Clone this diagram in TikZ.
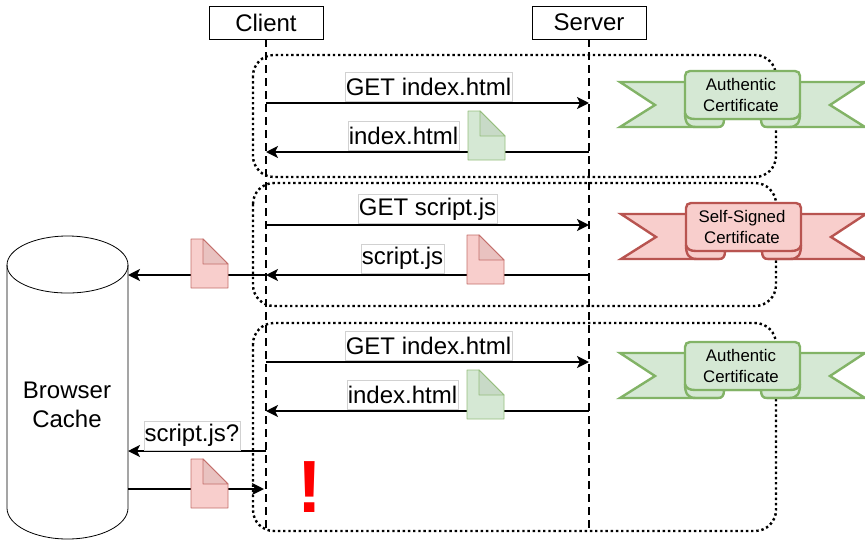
\documentclass[tikz,border=0pt]{standalone}
\usepackage{fontspec}
\setmainfont{Liberation Sans}
\usetikzlibrary{arrows.meta}
\definecolor{gfill}{HTML}{D5E8D4}
\definecolor{gline}{HTML}{82B366}
\definecolor{rfill}{HTML}{F8CECC}
\definecolor{rline}{HTML}{B85450}
\tikzset{
  x=1pt,y=-1pt,
  msg/.style={line width=2.6pt,-{Stealth[length=12pt,width=12pt,inset=3pt]}},
  lifeline/.style={line width=2.6pt,dash pattern=on 8pt off 5pt},
  group/.style={line width=2.4pt,dash pattern=on 2.4pt off 2.8pt,rounded corners=21pt},
  actor/.style={draw=black,line width=0.8pt,fill=white,minimum width=114pt,minimum height=33pt,inner sep=0pt,font=\fontsize{24}{28}\selectfont},
  lbl/.style={draw=black!18,line width=0.7pt,fill=white,inner sep=0pt,minimum height=29pt,font=\fontsize{24}{28}\selectfont},
  ribtext/.style={align=center,inner sep=0pt,font=\fontsize{16.8}{21}\selectfont},
}
\newcommand{\docicon}[5]{% name, x, y, fill, line
  \coordinate (#1) at (#2,#3);
  \filldraw[fill=#4,draw=#5!85!white,line width=0.9pt,line join=round] (#2,#3) -- ++(12,0) -- ++(25,25) -- ++(0,24) -- ++(-37,0) -- cycle;
  \filldraw[fill=#4!94!black,draw=#5!85!white,line width=0.9pt,line join=round] (#2+12,#3) -- ++(25,25) -- ++(-25,0) -- cycle;
}
\newcommand{\ribbonshape}[6]{% name, dy, fill, line, text, dx
  \begin{scope}[shift={(#6,#2)}]
    \filldraw[fill=#3,draw=#4,line width=2.4pt,line join=miter]
      (685,82) -- (620,82) -- (655,105) -- (620,127) -- (718,127)
      .. controls (722,127) and (724,125) .. (724,119) -- (761,119)
      .. controls (761,125) and (763,127) .. (767,127) -- (865,127) -- (830,105) -- (865,82) -- (800,82) -- cycle;
    \filldraw[fill=#3,draw=#4,line width=2.4pt]
      (685,113) -- (685,76) .. controls (685,73) and (687,71) .. (690,71) -- (795,71)
      .. controls (798,71) and (800,73) .. (800,76) -- (800,113)
      .. controls (799,117) and (796,119) .. (790,119) -- (695,119)
      .. controls (689,119) and (686,117) .. (685,113) -- cycle;
    \draw[draw=#4,line width=2.4pt] (685,113) .. controls (685,123) and (688,127) .. (696,127) -- (718,127);
    \draw[draw=#4,line width=2.4pt] (800,113) .. controls (800,123) and (797,127) .. (789,127) -- (767,127);
    \node[ribtext] (#1) at (741,95) {#5};
  \end{scope}
}
\begin{document}
\begin{tikzpicture}
\useasboundingbox (0,0) rectangle (865,539);
% groups
\draw[group] (253,55) rectangle (776,177);
\draw[group] (253,183) rectangle (776,306);
\draw[group] (253,323) rectangle (776,531);
% actors
\node[actor] (client) at (266,22.5) {Client};
\node[actor] (server) at (589,22.5) {Server};
\coordinate (clientEnd) at (266,531);
\coordinate (serverEnd) at (589,531);
\draw[lifeline] (client.south) -- (clientEnd);
\draw[lifeline] (server.south) -- (serverEnd);
% cache
\draw[line width=0.8pt,fill=white] (7,265) .. controls (7,249) and (34,236) .. (67.5,236)
  .. controls (101,236) and (128,249) .. (128,265) -- (128,508)
  .. controls (128,525) and (101,539) .. (67.5,539)
  .. controls (34,539) and (7,525) .. (7,508) -- cycle;
\draw[line width=0.8pt] (7,265) .. controls (7,281) and (34,293) .. (67.5,293)
  .. controls (101,293) and (128,281) .. (128,265);
\node[align=center,inner sep=0pt,font=\fontsize{24}{29}\selectfont] (cache) at (67,405) {Browser\\Cache};
% anchor coordinates
\foreach \n/\y in {1/103,2/152,3/225,4/275,5/362,6/411,7/451,8/489}{
  \coordinate (c\n) at (266,\y);
  \coordinate (s\n) at (589,\y);
}
\coordinate (k4) at (128,275);
\coordinate (k7) at (128,451);
\coordinate (k8) at (128,489);
\coordinate (e8) at (264,489);
% connectors
\draw[msg] (c1) -- (s1);
\draw[msg] (s2) -- (c2);
\draw[msg] (c3) -- (s3);
\draw[msg] (s4) -- (c4);
\draw[msg] (c4) -- (k4);
\draw[msg] (c5) -- (s5);
\draw[msg] (s6) -- (c6);
\draw[msg] (c7) -- (k7);
\draw[msg] (k8) -- (e8);
% labels
\node[lbl,minimum width=167pt] (l1) at (428.5,86.5) {GET index.html};
\node[lbl,minimum width=111pt] (l2) at (403.5,136) {index.html};
\node[lbl,minimum width=139pt] (l3) at (427.5,209) {GET script.js};
\node[lbl,minimum width=83pt] (l4) at (402.5,258.5) {script.js};
\node[lbl,minimum width=167pt] (l5) at (428.5,345.5) {GET index.html};
\node[lbl,minimum width=111pt] (l6) at (402.5,394.5) {index.html};
\node[lbl,minimum width=96pt] (l7) at (192,435.5) {script.js?};
% documents
\docicon{d1}{468}{111}{gfill}{gline}
\docicon{d2}{467}{235}{rfill}{rline}
\docicon{d3}{191}{239}{rfill}{rline}
\docicon{d4}{467}{370}{gfill}{gline}
\docicon{d5}{191}{459}{rfill}{rline}
% ribbons
\ribbonshape{r1}{0}{gfill}{gline}{Authentic\\Certificate}{0}
\ribbonshape{r2}{132}{rfill}{rline}{Self-Signed\\Certificate}{1}
\ribbonshape{r3}{271}{gfill}{gline}{Authentic\\Certificate}{0}
% alert
\node[text=red,inner sep=0pt,font=\fontsize{74}{74}\bfseries\selectfont] (alert) at (309.5,487) {!};
\end{tikzpicture}
\end{document}
